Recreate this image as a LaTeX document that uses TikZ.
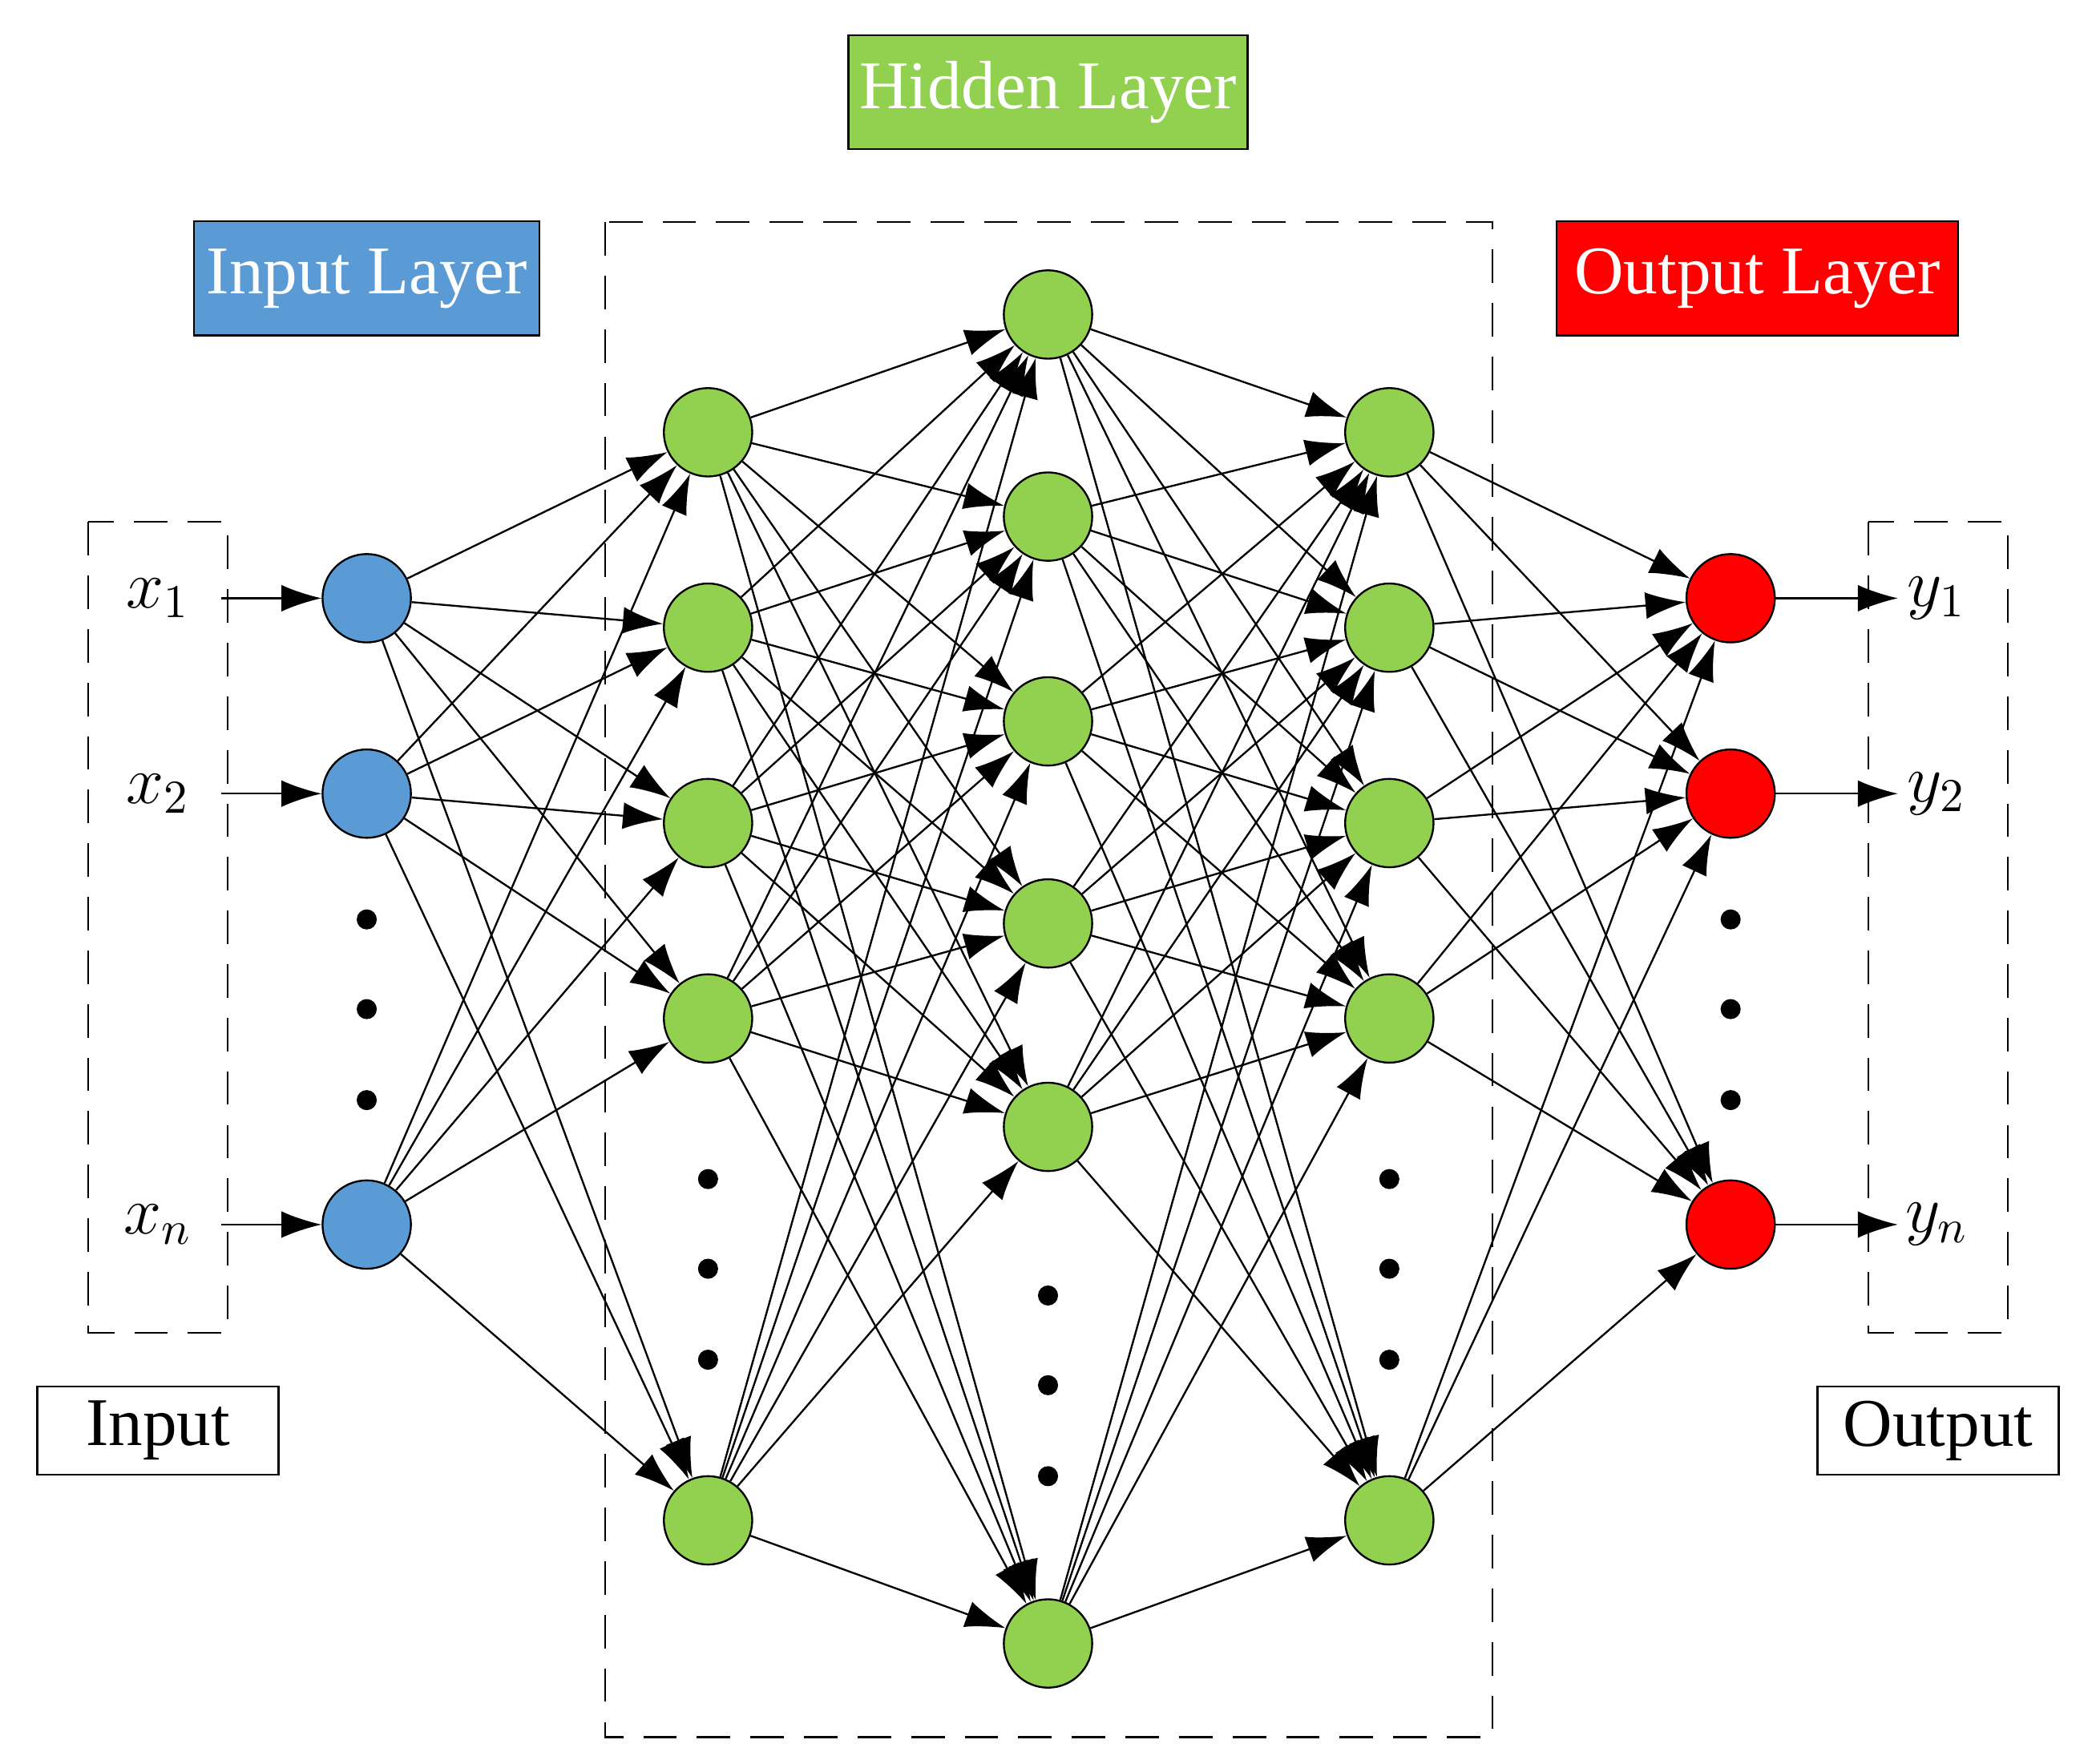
\documentclass[tikz,border=0pt]{standalone}
\usepackage{fontspec}
\setmainfont{Liberation Serif}
\usetikzlibrary{arrows.meta}
\definecolor{inblue}{HTML}{5B9BD5}
\definecolor{hidgreen}{HTML}{92D050}
\tikzset{
    neuron/.style={circle,draw,thin,minimum size=0.66cm,inner sep=0pt},
    dot/.style={circle,fill,inner sep=0pt,minimum size=0.15cm},
    conn/.style={-{Latex[length=0.3cm,width=0.2cm]},thin},
    lbl/.style={draw,thin,font=\fontsize{14.5pt}{16pt}\selectfont,inner sep=0pt},
    frame/.style={draw,thin,dash pattern=on 0.25cm off 0.15cm}
}
\begin{document}
\begin{tikzpicture}[x=0.01cm,y=-0.01cm]
    \useasboundingbox (0,0) rectangle (1563,1318);

    % dashed frames
    \draw[frame] (66,390) rectangle (170,996);
    \draw[frame] (1396,390) rectangle (1500,996);
    \draw[frame] (452,166) rectangle (1115,1298);

    % title boxes
    \node[lbl,fill=inblue,text=white,minimum width=2.58cm,minimum height=0.85cm] (inlayer) at (274,208) {Input Layer};
    \node[lbl,fill=hidgreen,text=white,minimum width=2.98cm,minimum height=0.85cm] (hidlayer) at (783,69) {Hidden Layer};
    \node[lbl,fill=red,text=white,minimum width=3.0cm,minimum height=0.85cm] (outlayer) at (1313,208) {Output Layer};
    \node[lbl,minimum width=1.8cm,minimum height=0.66cm] (inbox) at (118,1069) {Input};
    \node[lbl,minimum width=1.8cm,minimum height=0.66cm] (outbox) at (1448,1069) {Output};

    % neurons
    \foreach \y [count=\i] in {447,593,915}
        \node[neuron,fill=inblue] (i\i) at (274,\y) {};
    \foreach \y [count=\i] in {323,469,615,761,1136}
        \node[neuron,fill=hidgreen] (a\i) at (529,\y) {};
    \foreach \y [count=\i] in {235,386,539,690,842,1228}
        \node[neuron,fill=hidgreen] (b\i) at (783,\y) {};
    \foreach \y [count=\i] in {323,469,615,761,1136}
        \node[neuron,fill=hidgreen] (c\i) at (1038,\y) {};
    \foreach \y [count=\i] in {447,593,915}
        \node[neuron,fill=red] (o\i) at (1293,\y) {};

    % dots
    \foreach \y [count=\i] in {687,754,822} {
        \node[dot] (di\i) at (274,\y) {};
        \node[dot] (do\i) at (1293,\y) {};
    }
    \foreach \y [count=\i] in {881,948,1016} {
        \node[dot] (da\i) at (529,\y) {};
        \node[dot] (dc\i) at (1038,\y) {};
    }
    \foreach \y [count=\i] in {968,1035,1103}
        \node[dot] (db\i) at (783,\y) {};

    % inputs and outputs
    \foreach \s/\y [count=\i] in {1/447,2/593,n/915} {
        \node[font=\fontsize{14.5pt}{16pt}\selectfont] (x\i) at (118,\y) {$x_{\s}$};
        \coordinate (xs\i) at (165,\y);
        \draw[conn] (xs\i) -- (i\i);
        \node[font=\fontsize{14.5pt}{16pt}\selectfont] (y\i) at (1447,\y) {$y_{\s}$};
        \coordinate (ye\i) at (1418,\y);
        \draw[conn] (o\i) -- (ye\i);
    }

    % connections
    \foreach \i in {1,2,3}
        \foreach \j in {1,...,5}
            \draw[conn] (i\i) -- (a\j);
    \foreach \i in {1,...,5}
        \foreach \j in {1,...,6}
            \draw[conn] (a\i) -- (b\j);
    \foreach \i in {1,...,6}
        \foreach \j in {1,...,5}
            \draw[conn] (b\i) -- (c\j);
    \foreach \i in {1,...,5}
        \foreach \j in {1,2,3}
            \draw[conn] (c\i) -- (o\j);
\end{tikzpicture}
\end{document}
